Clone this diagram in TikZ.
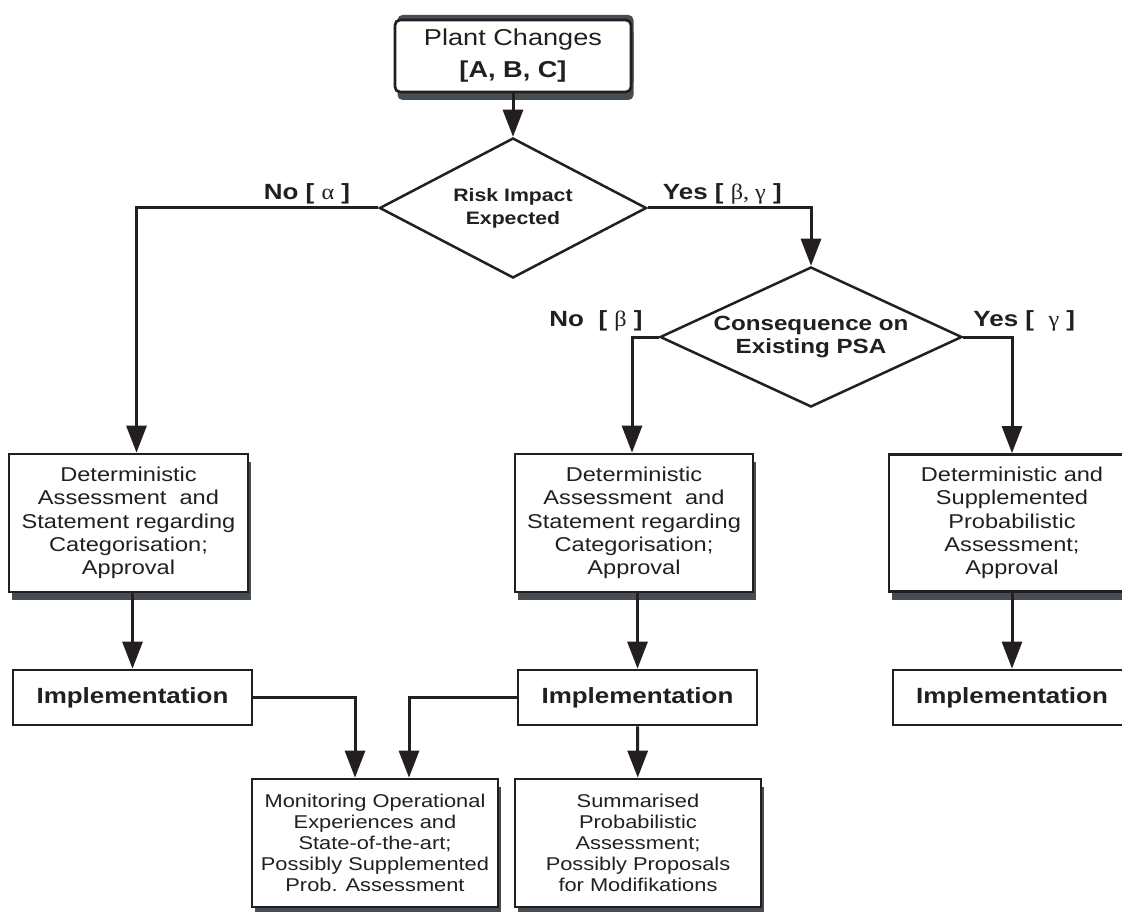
\documentclass[tikz,border=0pt]{standalone}
\usepackage{fontspec}
\setmainfont{Liberation Sans}[FakeStretch=1.18]
\newfontfamily\greekfont{Liberation Serif}[FakeStretch=1.1]
\usepackage{tikz}
\usetikzlibrary{shapes.geometric}
\usetikzlibrary{arrows.meta}
\usetikzlibrary{shadows}
\definecolor{ink}{RGB}{35,31,32}
\definecolor{shadowgray}{RGB}{70,78,83}
\newcommand{\gr}[1]{{\greekfont\mdseries #1}}
\tikzset{
process/.style={
  rectangle, draw=ink, line width=2.7pt, fill=white, text=ink,
  align=center, inner sep=0pt,
  font=\fontsize{20}{23.3}\selectfont,
  drop shadow={shadow xshift=2.5pt, shadow yshift=-8pt, fill=shadowgray, opacity=1}
},
startbox/.style={
  process, rounded corners=5pt,
  font=\fontsize{23}{32}\selectfont,
  drop shadow={shadow xshift=2.5pt, shadow yshift=5pt, fill=shadowgray, opacity=1}
},
impl/.style={
  rectangle, draw=ink, line width=2.7pt, fill=white, text=ink,
  inner sep=0pt, minimum height=55pt,
  font=\bfseries\fontsize{22}{26}\selectfont
},
decision/.style={
  diamond, draw=ink, line width=2.5pt, fill=white, inner sep=0pt
},
decisiontext/.style={
  text=ink, align=center, inner sep=0pt
},
branch/.style={
  text=ink, inner sep=0pt,
  font=\bfseries\fontsize{22}{26}\selectfont
},
flowline/.style={
  draw=ink, line width=3pt,
  -{Triangle[length=27pt,width=20pt]}
},
}

\begin{document}
\begin{tikzpicture}[x=1pt,y=-1pt]
\useasboundingbox (0,0) rectangle (1122,912);

% top of the chart
\node[startbox, minimum width=236pt, minimum height=72pt] (plant) at (513,56)
  {Plant Changes\\{\bfseries [A, B, C]}};
\node[decision, minimum width=267pt, minimum height=140pt,
  label={[decisiontext, font=\bfseries\fontsize{18}{23}\selectfont]center:{Risk Impact\\Expected}}]
  (risk) at (513,208) {};
\node[decision, minimum width=302pt, minimum height=140pt,
  label={[decisiontext, font=\bfseries\fontsize{20.5}{23}\selectfont]center:{Consequence on\\Existing PSA}}]
  (cons) at (811,337) {};

% assessment boxes
\node[process, minimum width=239pt, minimum height=138pt] (det1) at (128.5,523)
  {Deterministic\\Assessment~ and\\Statement regarding\\Categorisation;\\Approval};
\node[process, minimum width=238pt, minimum height=138pt] (det2) at (634,523)
  {Deterministic\\Assessment~ and\\Statement regarding\\Categorisation;\\Approval};
\node[process, minimum width=246pt, minimum height=137pt] (det3) at (1012,523)
  {Deterministic and\\Supplemented\\Probabilistic\\Assessment;\\Approval};

% implementation row
\node[impl, minimum width=239pt] (impl1) at (132.5,697.5) {Implementation};
\node[impl, minimum width=239pt] (impl2) at (637.5,697.5) {Implementation};
\node[impl, minimum width=238pt] (impl3) at (1012,697.5) {Implementation};

% bottom row
\node[process, minimum width=246pt, minimum height=128pt,
  font=\fontsize{18.5}{21}\selectfont] (mon) at (375,843)
  {Monitoring Operational\\Experiences and\\State-of-the-art;\\Possibly Supplemented\\Prob. Assessment};
\node[process, minimum width=246pt, minimum height=128pt,
  font=\fontsize{18.5}{21}\selectfont] (summ) at (638,843)
  {Summarised\\Probabilistic\\Assessment;\\Possibly Proposals\\for Modifikations};

% branch labels
\node[branch, anchor=base east] (noalpha) at ([xshift=-28pt,yshift=8pt]risk.west)
  {No [ \gr{α} ]};
\node[branch, anchor=base west] (yesbg) at ([xshift=15pt,yshift=8pt]risk.east)
  {Yes [ \gr{β, γ} ]};
\node[branch, anchor=base east] (nobeta) at ([xshift=-16pt,yshift=11pt]cons.west)
  {No~ [ \gr{β} ]};
\node[branch, anchor=base west] (yesgamma) at ([xshift=10pt,yshift=11pt]cons.east)
  {Yes [~ \gr{γ} ]};

% connectors
\draw[flowline] (plant) -- (risk);
\draw[flowline] (risk.west) -| ([xshift=8pt]det1.north);
\draw[flowline] (risk.east) -| (cons.north);
\draw[flowline] (cons.west) -| ([xshift=-2pt]det2.north);
\draw[flowline] (cons.east) -| (det3.north);
\draw[flowline] (det1.south -| impl1.north) -- (impl1.north);
\draw[flowline] (det2.south -| impl2.north) -- (impl2.north);
\draw[flowline] (det3) -- (impl3);
\draw[flowline] (impl2) -- (summ);
\draw[flowline] (impl1.east) -| ([xshift=-20pt]mon.north);
\draw[flowline] (impl2.west) -| ([xshift=34pt]mon.north);
\end{tikzpicture}
\end{document}
